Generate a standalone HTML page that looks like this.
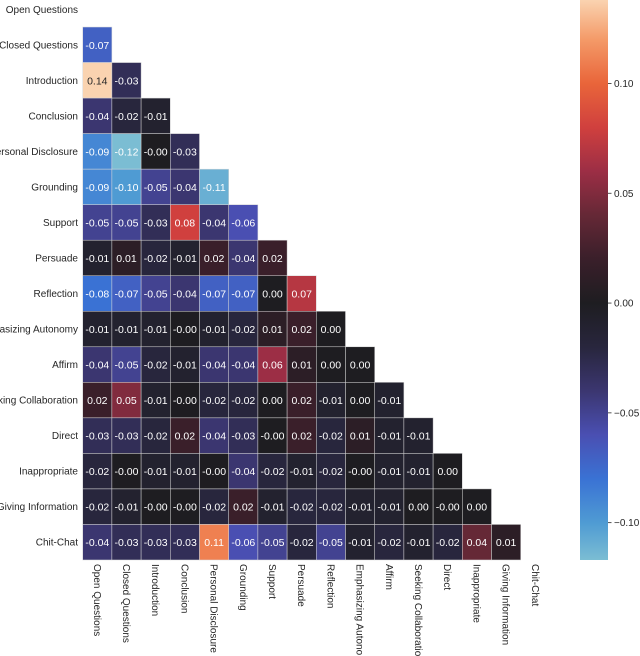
<!DOCTYPE html>
<html><head><meta charset="utf-8"><style>
html,body{margin:0;padding:0;background:#fff;}
svg{display:block;font-family:"Liberation Sans","DejaVu Sans",sans-serif;}
</style></head><body>
<svg id="chart" width="640" height="656" viewBox="0 0 640 656" xmlns="http://www.w3.org/2000/svg">
<defs><linearGradient id="cbgrad" x1="0" y1="1" x2="0" y2="0"></linearGradient></defs>
<g id="cells"></g>
<g id="ylabels"></g>
<g id="xlabels"></g>
<g id="cbar"></g>
</svg>
<script>
const categories = ["Open Questions","Closed Questions","Introduction","Conclusion","Personal Disclosure","Grounding","Support","Persuade","Reflection","Emphasizing Autonomy","Affirm","Seeking Collaboration","Direct","Inappropriate","Giving Information","Chit-Chat"];
const xTickLabels = ["Open Questions","Closed Questions","Introduction","Conclusion","Personal Disclosure","Grounding","Support","Persuade","Reflection","Emphasizing Autono","Affirm","Seeking Collaboratio","Direct","Inappropriate","Giving Information","Chit-Chat"];
const yTickLabels = ["Open Questions","Closed Questions","Introduction","Conclusion","Personal Disclosure","Grounding","Support","Persuade","Reflection","Emphasizing Autonomy","Affirm","Seeking Collaboration","Direct","Inappropriate","Giving Information","Chit-Chat"];
const row1 = [-0.07];
const row2 = [0.14,-0.03];
const row3 = [-0.04,-0.02,-0.01];
const row4 = [-0.09,-0.12,-0.00,-0.03];
const row5 = [-0.09,-0.10,-0.05,-0.04,-0.11];
const row6 = [-0.05,-0.05,-0.03,0.08,-0.04,-0.06];
const row7 = [-0.01,0.01,-0.02,-0.01,0.02,-0.04,0.02];
const row8 = [-0.08,-0.07,-0.05,-0.04,-0.07,-0.07,0.00,0.07];
const row9 = [-0.01,-0.01,-0.01,-0.00,-0.01,-0.02,0.01,0.02,0.00];
const row10 = [-0.04,-0.05,-0.02,-0.01,-0.04,-0.04,0.06,0.01,0.00,0.00];
const row11 = [0.02,0.05,-0.01,-0.00,-0.02,-0.02,0.00,0.02,-0.01,0.00,-0.01];
const row12 = [-0.03,-0.03,-0.02,0.02,-0.04,-0.03,-0.00,0.02,-0.02,0.01,-0.01,-0.01];
const row13 = [-0.02,-0.00,-0.01,-0.01,-0.00,-0.04,-0.02,-0.01,-0.02,-0.00,-0.01,-0.01,0.00];
const row14 = [-0.02,-0.01,-0.00,-0.00,-0.02,0.02,-0.01,-0.02,-0.02,-0.01,-0.01,0.00,-0.00,0.00];
const row15 = [-0.04,-0.03,-0.03,-0.03,0.11,-0.06,-0.05,-0.02,-0.05,-0.01,-0.02,-0.01,-0.02,0.04,0.01];
const rows = [[],row1,row2,row3,row4,row5,row6,row7,row8,row9,row10,row11,row12,row13,row14,row15];
const cbTicks = [0.10,0.05,0.00,-0.05,-0.10];
const cbTickLabels = ["0.10","0.05","0.00","\u22120.05","\u22120.10"];
const vmin = -0.117, vmax = 0.138;

const NS="http://www.w3.org/2000/svg";
const gx0=82.7, cw=29.2, gy0=-8.5, rh=35.53;
const xPos = i => gx0 + i*cw;
const yPos = j => gy0 + j*rh;
const cbTop=0, cbBot=560, cbX=580, cbW=28;
const cbY = v => cbBot - (v - vmin)/(vmax - vmin)*(cbBot - cbTop);
const stops=[[-0.117,"#7bbdd3"],[-0.10,"#4f9bd3"],[-0.08,"#3a72d4"],[-0.06,"#4a4fb2"],[-0.04,"#3b3670"],[-0.02,"#28263d"],[0.0,"#1e1d21"],[0.02,"#3a1f2a"],[0.04,"#652836"],[0.06,"#9c2e45"],[0.08,"#d0403e"],[0.10,"#e9653a"],[0.12,"#f49a68"],[0.138,"#fad3b0"]];
function hex(h){return [1,3,5].map(k=>parseInt(h.substr(k,2),16));}
function color(v){
  if(v<=stops[0][0]) return stops[0][1];
  for(let k=1;k<stops.length;k++){
    if(v<=stops[k][0]){
      const a=hex(stops[k-1][1]), b=hex(stops[k][1]);
      const t=(v-stops[k-1][0])/(stops[k][0]-stops[k-1][0]);
      return "rgb("+a.map((c,i)=>Math.round(c+(b[i]-c)*t)).join(",")+")";
    }
  }
  return stops[stops.length-1][1];
}
function mk(tag,attrs,parent){const e=document.createElementNS(NS,tag);for(const k in attrs)e.setAttribute(k,attrs[k]);parent.appendChild(e);return e;}
const gC=document.getElementById("cells");
rows.forEach((r,j)=>{
  r.forEach((v,i)=>{
    const rect=mk("rect",{x:xPos(i),y:yPos(j),width:cw,height:rh,fill:color(v),stroke:"#d8d8d8","stroke-width":0.5},gC);
    
    
    const t=mk("text",{x:xPos(i)+cw/2,y:yPos(j)+rh/2+4,"text-anchor":"middle","font-size":"10.5",fill:(v>0.12?"#262626":"#ffffff")},gC);
    t.textContent=(v<0||Object.is(v,-0)?"-":"")+Math.abs(v).toFixed(2);
    
    
  });
});
const gY=document.getElementById("ylabels");
yTickLabels.forEach((l,j)=>{
  const t=mk("text",{x:78,y:yPos(j)+rh/2+3.5,"text-anchor":"end","font-size":"10",fill:"#262626"},gY);
  t.textContent=l;
  
  
});
const gX=document.getElementById("xlabels");
xTickLabels.forEach((l,i)=>{
  const cx=xPos(i)+cw/2-3.5, cy=564;
  const t=mk("text",{x:cx,y:cy,"font-size":"10",fill:"#262626",transform:"rotate(90 "+cx+" "+cy+")"},gX);
  t.textContent=l;
  
  
});
const grad=document.getElementById("cbgrad");
stops.forEach(s=>{mk("stop",{offset:((s[0]-vmin)/(vmax-vmin)).toFixed(4),"stop-color":s[1]},grad);});
const gB=document.getElementById("cbar");
const cb=mk("rect",{x:cbX,y:cbTop,width:cbW,height:cbBot-cbTop,fill:"url(#cbgrad)"},gB);


cbTicks.forEach((v,k)=>{
  const y=cbY(v);
  const ln=mk("line",{x1:cbX+cbW,x2:cbX+cbW+3.5,y1:y,y2:y,stroke:"#262626","stroke-width":0.8},gB);
  
  
  const t=mk("text",{x:cbX+cbW+6,y:y+3.5,"font-size":"10",fill:"#262626"},gB);
  t.textContent=cbTickLabels[k];
  
  
});
</script>
</body></html>
